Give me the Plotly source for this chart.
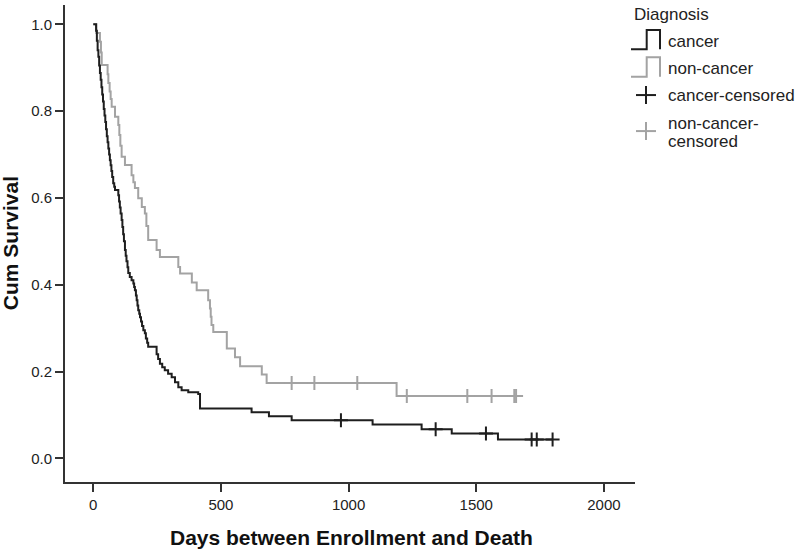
import plotly.graph_objects as go
import bisect

# ---------------- data ----------------
cancer_days = [11, 14, 17, 20, 23, 26, 29, 32, 35, 38, 41, 44, 47, 50, 53, 56, 59, 62, 65, 68,
               71, 74, 78, 82, 85, 98, 101, 104, 107, 111, 114, 117, 120, 124, 127, 130, 134,
               137, 143, 150, 157, 160, 163, 167, 170, 173, 176, 180, 183, 187, 191, 196, 202,
               206, 211, 215, 248, 254, 261, 270, 280, 293, 307, 320, 333, 346, 372, 411, 418,
               620, 688, 777, 1094, 1286, 1404, 1585]
cancer_surv = [0.985, 0.962, 0.940, 0.925, 0.905, 0.888, 0.872, 0.855, 0.838, 0.822, 0.805,
               0.790, 0.775, 0.758, 0.742, 0.728, 0.714, 0.700, 0.687, 0.675, 0.662, 0.648,
               0.634, 0.626, 0.618, 0.606, 0.592, 0.578, 0.564, 0.549, 0.533, 0.516, 0.500,
               0.480, 0.467, 0.454, 0.440, 0.427, 0.418, 0.410, 0.403, 0.395, 0.387, 0.375,
               0.364, 0.352, 0.341, 0.333, 0.325, 0.315, 0.305, 0.295, 0.288, 0.276, 0.266,
               0.257, 0.240, 0.229, 0.218, 0.210, 0.203, 0.195, 0.187, 0.175, 0.164, 0.157,
               0.152, 0.148, 0.115, 0.106, 0.097, 0.0876, 0.0777, 0.067, 0.057, 0.0434]
cancer_censored = [970, 1341, 1538, 1717, 1737, 1799]

noncancer_days = [12, 26, 30, 33, 56, 59, 64, 68, 72, 85, 98, 102, 106, 111, 124, 150, 157,
                  163, 176, 190, 202, 208, 215, 248, 261, 333, 340, 386, 405, 450, 457, 460,
                  463, 470, 523, 555, 575, 660, 679, 1188]
noncancer_surv = [0.980, 0.960, 0.935, 0.906, 0.885, 0.865, 0.845, 0.828, 0.810, 0.787, 0.768,
                  0.745, 0.720, 0.695, 0.676, 0.652, 0.636, 0.623, 0.599, 0.579, 0.564, 0.535,
                  0.503, 0.480, 0.464, 0.441, 0.426, 0.405, 0.387, 0.364, 0.345, 0.326, 0.307,
                  0.291, 0.253, 0.233, 0.212, 0.193, 0.1735, 0.1435]
noncancer_censored = [777, 866, 1034, 1228, 1465, 1560, 1649, 1656]

x_ticks = [0, 500, 1000, 1500, 2000]
y_ticks = [0.0, 0.2, 0.4, 0.6, 0.8, 1.0]
legend_title = "Diagnosis"
legend_labels = ["cancer", "non-cancer", "cancer-censored", "non-cancer-", "censored"]

# ---------------- styling ----------------
BLACK = "#1e1e1e"
GRAY = "#a3a3a3"
AXIS = "#333333"
FONT = "Liberation Sans, Arial, sans-serif"


def surv_at(days, surv, t):
    i = bisect.bisect_right(days, t)
    return 1.0 if i == 0 else surv[i - 1]


def step_xy(days, surv, end):
    xs = [0] + list(days) + [end]
    ys = [1.0] + list(surv) + [surv[-1]]
    return xs, ys


fig = go.Figure()

cx, cy = step_xy(cancer_days, cancer_surv, max(cancer_censored))
nx, ny = step_xy(noncancer_days, noncancer_surv, max(noncancer_censored))

fig.add_trace(go.Scatter(x=nx, y=ny, mode="lines", line=dict(color=GRAY, width=2, shape="hv"),
                         name="non-cancer", showlegend=False))
fig.add_trace(go.Scatter(x=cx, y=cy, mode="lines", line=dict(color=BLACK, width=2, shape="hv"),
                         name="cancer", showlegend=False))
fig.add_trace(go.Scatter(x=noncancer_censored,
                         y=[surv_at(noncancer_days, noncancer_surv, t) for t in noncancer_censored],
                         mode="markers",
                         marker=dict(symbol="cross-thin", size=10, line=dict(color=GRAY, width=2)),
                         showlegend=False))
fig.add_trace(go.Scatter(x=cancer_censored,
                         y=[surv_at(cancer_days, cancer_surv, t) for t in cancer_censored],
                         mode="markers",
                         marker=dict(symbol="cross-thin", size=10, line=dict(color=BLACK, width=2)),
                         showlegend=False))

# plot area geometry (pixels)
L, R, T, B = 65, 635, 5, 481.7
W, H = 800, 549


def px(p):
    return (p - L) / (R - L)


def py(p):
    return (B - p) / (B - T)


shapes = []
# legend icons
shapes.append(dict(type="path", xref="paper", yref="paper",
                   path=f"M {px(631)},{py(49.3)} L {px(646.7)},{py(49.3)} L {px(646.7)},{py(30)} "
                        f"L {px(660)},{py(30)} L {px(660)},{py(49.3)}",
                   line=dict(color=BLACK, width=2)))
shapes.append(dict(type="path", xref="paper", yref="paper",
                   path=f"M {px(631)},{py(76.7)} L {px(646.7)},{py(76.7)} L {px(646.7)},{py(57.3)} "
                        f"L {px(660)},{py(57.3)} L {px(660)},{py(76.7)}",
                   line=dict(color=GRAY, width=2)))
for (cxp, cyp, col) in [(646, 95, BLACK), (646, 131, GRAY)]:
    shapes.append(dict(type="line", xref="paper", yref="paper",
                       x0=px(cxp - 10), x1=px(cxp + 10), y0=py(cyp), y1=py(cyp),
                       line=dict(color=col, width=2)))
    shapes.append(dict(type="line", xref="paper", yref="paper",
                       x0=px(cxp), x1=px(cxp), y0=py(cyp - 9), y1=py(cyp + 9),
                       line=dict(color=col, width=2)))

annotations = [
    dict(text=legend_title, x=px(632), y=py(14), xref="paper", yref="paper",
         xanchor="left", yanchor="middle", showarrow=False, font=dict(size=17, color="#222", family=FONT)),
]
for lab, yy in zip(legend_labels, [41, 68, 95, 123, 141]):
    annotations.append(dict(text=lab, x=px(666), y=py(yy), xref="paper", yref="paper",
                            xanchor="left", yanchor="middle", showarrow=False,
                            font=dict(size=17, color="#222", family=FONT)))
annotations.append(dict(text="<b>Days between Enrollment and Death</b>", x=px(168), y=py(537),
                        xref="paper", yref="paper", xanchor="left", yanchor="middle", showarrow=False,
                        font=dict(size=21, color="#111", family=FONT)))
annotations.append(dict(text="<b>Cum Survival</b>", x=px(10), y=py(243), xref="paper", yref="paper",
                        xanchor="center", yanchor="middle", textangle=-90, showarrow=False,
                        font=dict(size=21, color="#111", family=FONT)))

fig.update_layout(
    width=W, height=H,
    margin=dict(l=L, r=W - R, t=T, b=H - B),
    plot_bgcolor="white", paper_bgcolor="white",
    shapes=shapes, annotations=annotations,
    font=dict(family=FONT, size=15, color="#222"),
    showlegend=False,
)
fig.update_xaxes(range=[-110.8, 2121.8], tickvals=x_ticks, ticktext=[str(v) for v in x_ticks],
                 showgrid=False, zeroline=False, showline=True, linecolor=AXIS, linewidth=2,
                 ticks="outside", ticklen=8, tickwidth=2, tickcolor=AXIS,
                 tickfont=dict(size=15, color="#222", family=FONT))
fig.update_yaxes(range=[-0.0546, 1.0445], tickvals=y_ticks, ticktext=[f"{v:.1f}" for v in y_ticks],
                 showgrid=False, zeroline=False, showline=True, linecolor=AXIS, linewidth=2,
                 ticks="outside", ticklen=8, tickwidth=2, tickcolor=AXIS,
                 tickfont=dict(size=15, color="#222", family=FONT))

fig.write_html("out.html", config={"displayModeBar": False},
               post_script="document.body.style.margin='0';document.body.style.overflow='hidden';")
